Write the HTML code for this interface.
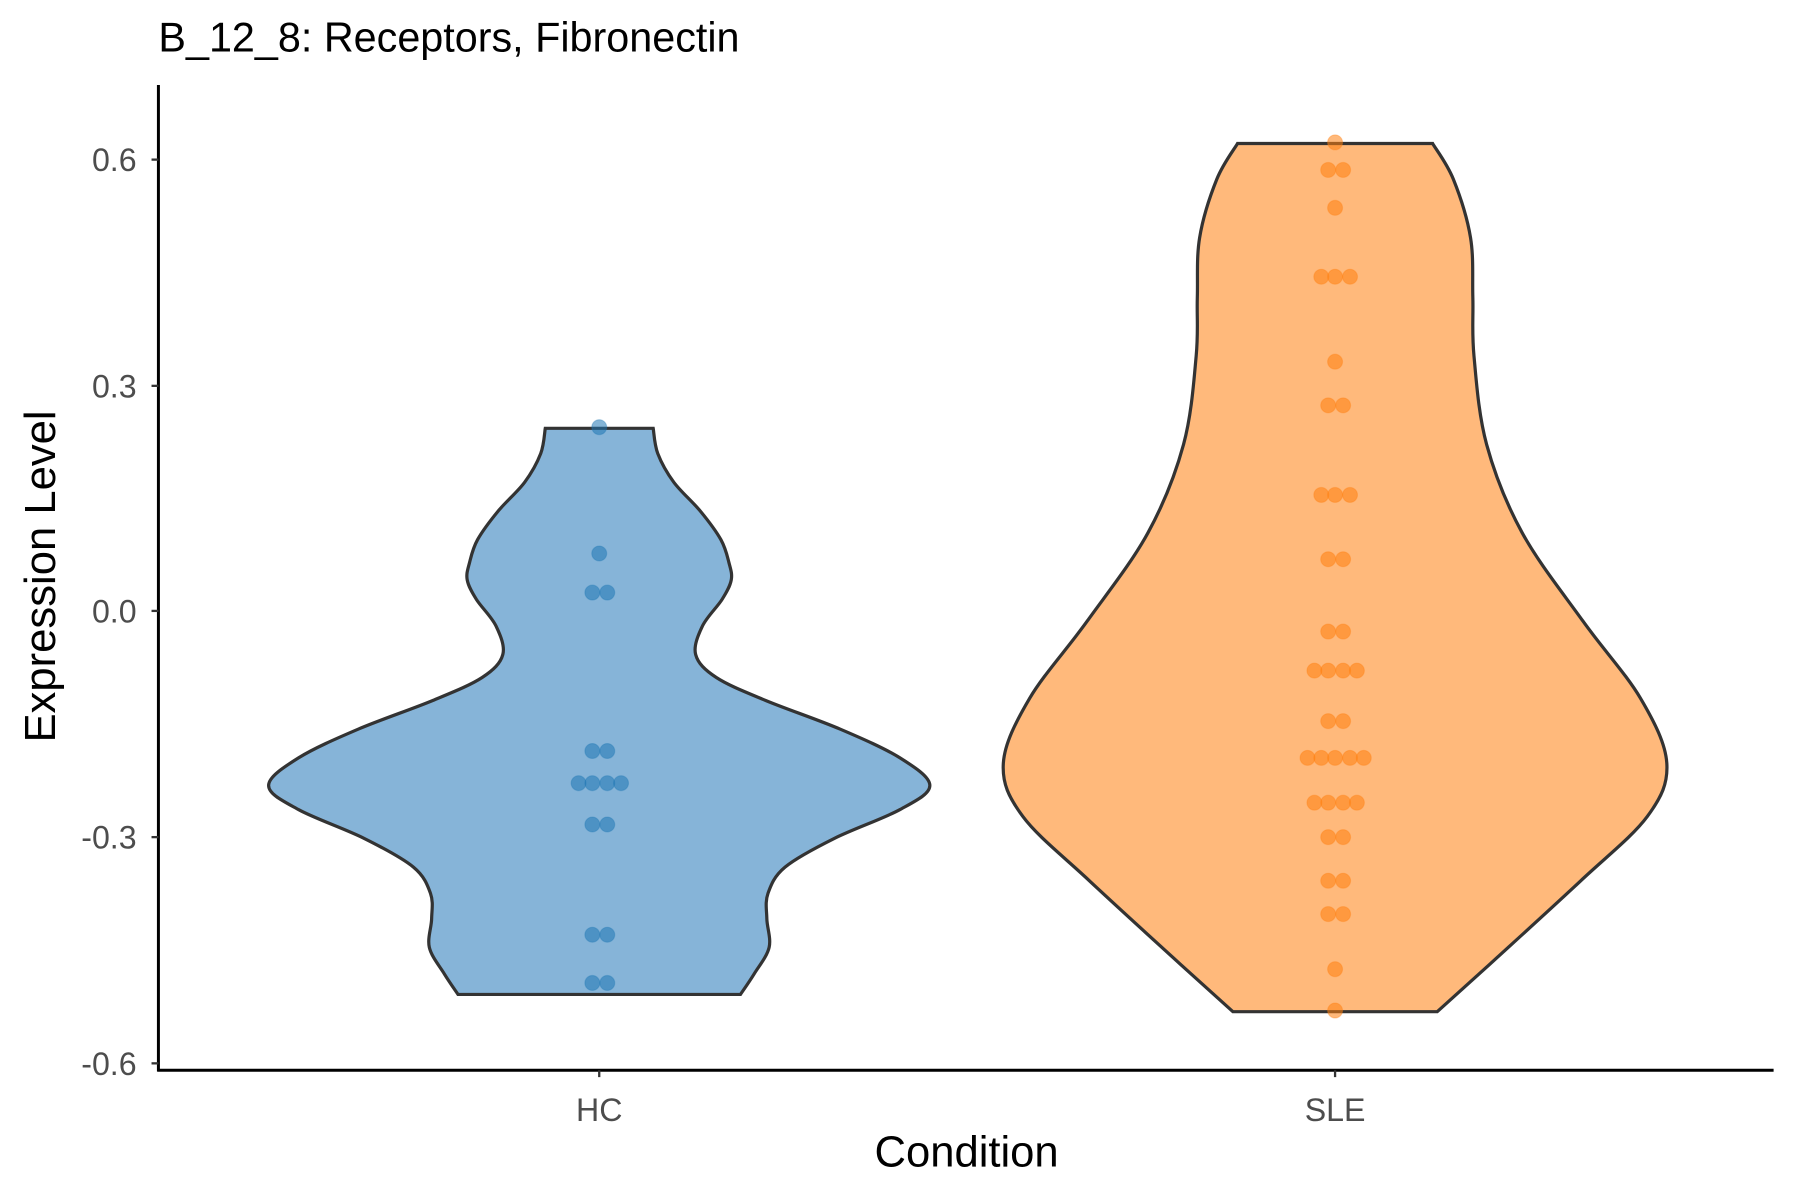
<!DOCTYPE html>
<html><head><meta charset="utf-8"><style>html,body{margin:0;padding:0;background:#fff}svg{display:block}</style></head>
<body>
<svg id="s" width="1800" height="1200" viewBox="0 0 1568 1045" preserveAspectRatio="none" xmlns="http://www.w3.org/2000/svg" font-family="Liberation Sans, sans-serif">
<rect width="1568" height="1045" fill="#fff"/>
<path id="hc" fill="#86b4d8" stroke="#333" stroke-width="2.8"/>
<path id="sle" fill="#ffb97b" stroke="#333" stroke-width="2.8"/>
<g id="dots"></g>
<line x1="138" y1="74" x2="138" y2="933" stroke="#000" stroke-width="2.6"/>
<line x1="137" y1="932" x2="1545" y2="932" stroke="#000" stroke-width="2.6"/>
<g stroke="#333" stroke-width="2">
<line x1="132" y1="139" x2="138" y2="139"/><line x1="132" y1="336" x2="138" y2="336"/>
<line x1="132" y1="532" x2="138" y2="532"/><line x1="132" y1="729" x2="138" y2="729"/>
<line x1="132" y1="926" x2="138" y2="926"/>
<line x1="522" y1="932" x2="522" y2="938"/><line x1="1163" y1="932" x2="1163" y2="938"/>
</g>
<g font-size="28" fill="#4d4d4d" text-anchor="end">
<text x="119" y="149">0.6</text><text x="119" y="346">0.3</text><text x="119" y="542">0.0</text>
<text x="119" y="739">-0.3</text><text x="119" y="936">-0.6</text>
</g>
<g font-size="28" fill="#4d4d4d" text-anchor="middle">
<text x="522" y="976">HC</text><text x="1163" y="976">SLE</text>
</g>
<text x="842" y="1016" font-size="38" text-anchor="middle" fill="#000">Condition</text>
<text transform="translate(48,502) rotate(-90)" font-size="38" text-anchor="middle" fill="#000">Expression Level</text>
<text x="138" y="45" font-size="36" fill="#000">B_12_8: Receptors, Fibronectin</text>
</svg>
<script>
function build(cx,pts){
  var right=pts.map(p=>[cx+p[1],p[0]]);
  var left=pts.slice().reverse().map(p=>[cx-p[1],p[0]]);
  function cr(a,move){var d=move?'M'+a[0][0]+','+a[0][1]:' L'+a[0][0]+','+a[0][1];
    for(var i=0;i<a.length-1;i++){var p0=a[Math.max(i-1,0)],p1=a[i],p2=a[i+1],p3=a[Math.min(i+2,a.length-1)];
      d+=' C'+(p1[0]+(p2[0]-p0[0])/6)+','+(p1[1]+(p2[1]-p0[1])/6)+' '+(p2[0]-(p3[0]-p1[0])/6)+','+(p2[1]-(p3[1]-p1[1])/6)+' '+p2[0]+','+p2[1];}
    return d;}
  return cr(right,true)+cr(left,false)+' Z';
}
var hc=[[373,47],[395,51],[420,65],[445,88],[470,106],[490,113],[505,115],[522,107],[545,90],[570,84],[590,102],[610,145],[635,210],[660,262],[684,288],[705,262],[730,205],[755,162],[778,147],[800,146],[825,148],[848,135],[866,123]];
var sle=[[125,85],[156,103],[207,118],[259,120],[310,121],[387,132],[464,163],[541,216],[608,266],[665,289],[711,272],[767,214],[834,141],[881,89]];
document.getElementById('hc').setAttribute('d',build(522,hc));
document.getElementById('sle').setAttribute('d',build(1163,sle));
var d=[['#1f77b4',[[522,372],[522,482],[516,516],[529,516],[516,654],[529,654],[504,682],[516,682],[529,682],[541,682],[516,718],[529,718],[516,814],[529,814],[516,856],[529,856]]],
['#ff7f0e',[[1163,124],[1157,148],[1170,148],[1163,181],[1151,241],[1163,241],[1176,241],[1163,315],[1157,353],[1170,353],[1151,431],[1163,431],[1176,431],[1157,487],[1170,487],[1157,550],[1170,550],[1145,584],[1157,584],[1170,584],[1182,584],[1157,628],[1170,628],[1139,660],[1151,660],[1163,660],[1176,660],[1188,660],[1145,699],[1157,699],[1170,699],[1182,699],[1157,729],[1170,729],[1157,767],[1170,767],[1157,796],[1170,796],[1163,844],[1163,880]]]];
var g=document.getElementById('dots'),h='';
d.forEach(function(s){s[1].forEach(function(p){h+='<circle cx="'+p[0]+'" cy="'+p[1]+'" r="6.5" fill="'+s[0]+'" fill-opacity="0.55" stroke="'+s[0]+'" stroke-opacity="0.3" stroke-width="1"/>';});});
g.innerHTML=h;
</script>
</body></html>
